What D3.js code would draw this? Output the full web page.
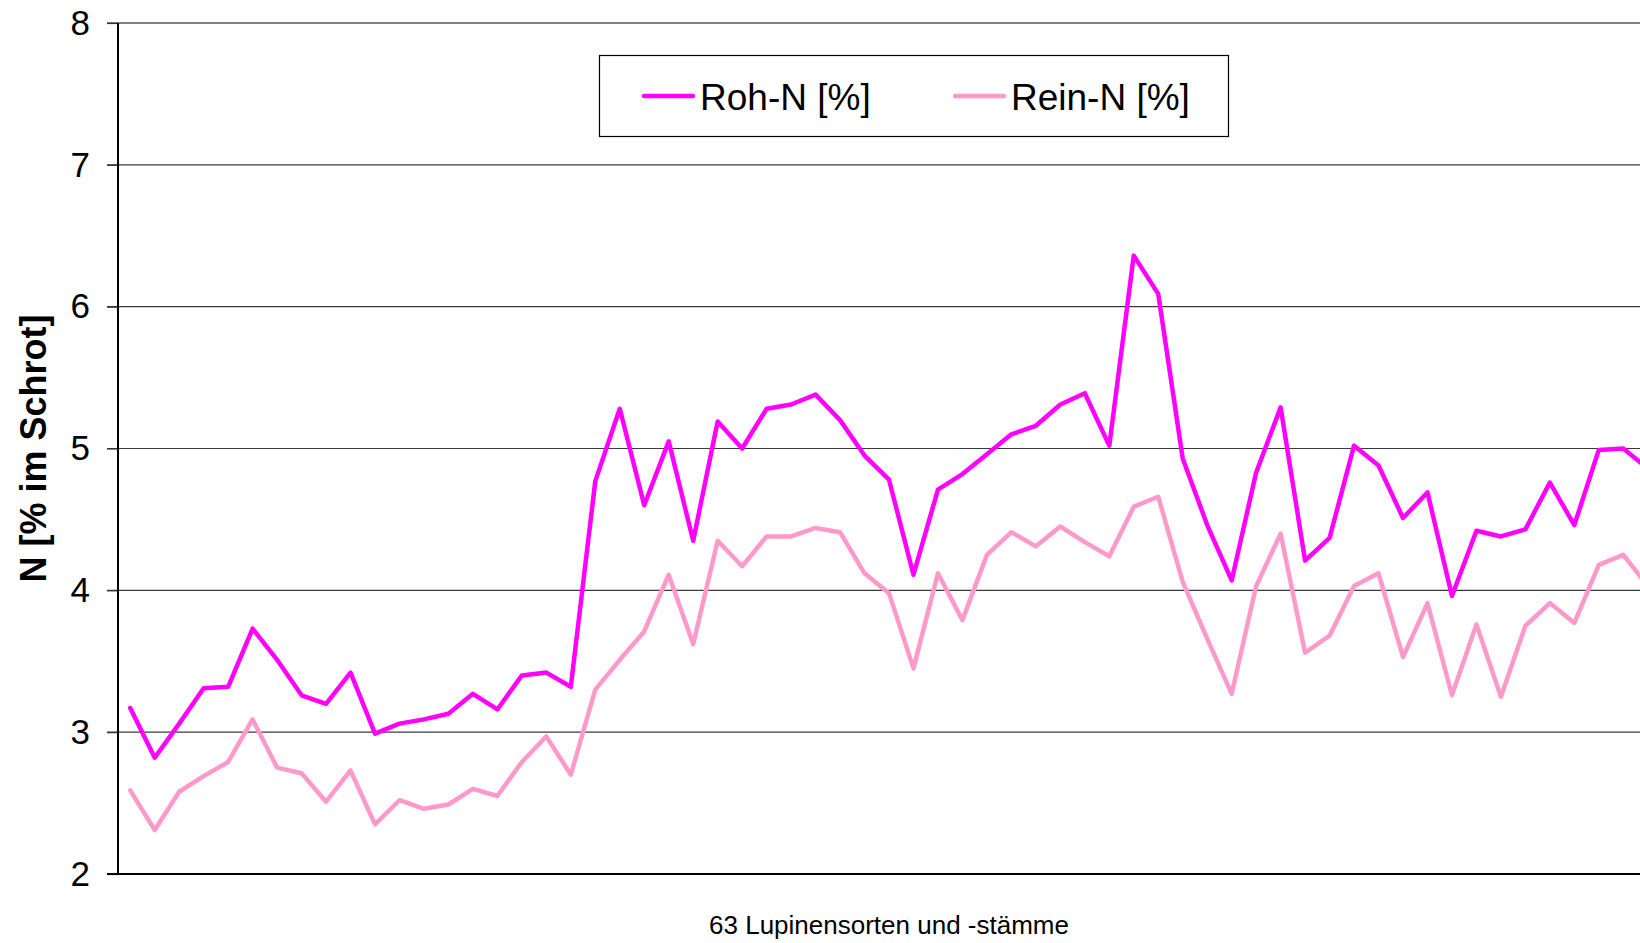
<!DOCTYPE html>
<html>
<head>
<meta charset="utf-8">
<script src="https://cdn.jsdelivr.net/npm/d3@7/dist/d3.min.js"></script>
<style>
  html, body { margin: 0; padding: 0; background: #fff; overflow: hidden; }
  svg { display: block; font-family: "Liberation Sans", Arial, sans-serif; }
</style>
</head>
<body>
<svg id="chart" width="1640" height="943"></svg>
<script>
// ---- data ----
const categories = d3.range(1, 64); // 63 Lupinensorten und -stämme
const rohN = [3.17, 2.82, 3.06, 3.31, 3.32, 3.73, 3.51, 3.26, 3.20, 3.42,
              2.99, 3.06, 3.09, 3.13, 3.27, 3.16, 3.40, 3.42, 3.32, 4.77,
              5.28, 4.60, 5.05, 4.35, 5.19, 5.00, 5.28, 5.31, 5.38, 5.20,
              4.95, 4.78, 4.11, 4.71, 4.82, 4.96, 5.10, 5.16, 5.31, 5.39,
              5.02, 6.36, 6.09, 4.93, 4.46, 4.07, 4.83, 5.29, 4.21, 4.37,
              5.02, 4.88, 4.51, 4.69, 3.96, 4.42, 4.38, 4.43, 4.76, 4.46,
              4.99, 5.00, 4.86];
const reinN = [2.59, 2.31, 2.58, 2.69, 2.79, 3.09, 2.75, 2.71, 2.51, 2.73,
               2.35, 2.52, 2.46, 2.49, 2.60, 2.55, 2.79, 2.97, 2.70, 3.30,
               3.51, 3.71, 4.11, 3.62, 4.35, 4.17, 4.38, 4.38, 4.44, 4.41,
               4.12, 3.98, 3.45, 4.12, 3.79, 4.25, 4.41, 4.31, 4.45, 4.34,
               4.24, 4.59, 4.66, 4.06, 3.66, 3.27, 4.03, 4.40, 3.56, 3.68,
               4.03, 4.12, 3.53, 3.91, 3.26, 3.76, 3.25, 3.75, 3.91, 3.77,
               4.18, 4.25, 4.03];
const yTicks = [2, 3, 4, 5, 6, 7, 8];
const seriesNames = ["Roh-N [%]", "Rein-N [%]"];
const seriesColors = ["#FF00FF", "#FF99CC"];
const yTitle = "N [% im Schrot]";
const xTitle = "63 Lupinensorten und -stämme";

// ---- layout ----
const svg = d3.select("#chart");
const mLeft = 118, mRight = 1660, mTop = 23, mBottom = 874;

const x = d3.scalePoint().domain(categories).range([mLeft, mRight]).padding(0.5);
const y = d3.scaleLinear().domain([2, 8]).range([mBottom, mTop]);

// gridlines
svg.append("g").selectAll("line")
  .data(yTicks.filter(t => t > 2))
  .join("line")
  .attr("x1", mLeft - 11).attr("x2", mRight)
  .attr("y1", d => y(d)).attr("y2", d => y(d))
  .attr("stroke", d => d === 8 ? "#808080" : "#3a3a3a")
  .attr("stroke-width", d => d === 8 ? 2 : 1.2);

// y axis
const yAxis = d3.axisLeft(y).tickValues(yTicks).tickSize(11).tickPadding(17).tickFormat(d3.format("d"));
const gy = svg.append("g").attr("transform", `translate(${mLeft},0)`).call(yAxis);
gy.select(".domain").remove();
gy.selectAll(".tick line").attr("stroke", "#333").attr("stroke-width", 1.2);
gy.selectAll(".tick text").attr("font-size", 35).attr("fill", "#000")
  .attr("font-family", "Liberation Sans, Arial, sans-serif");

// axis lines
svg.append("line").attr("x1", mLeft).attr("x2", mLeft).attr("y1", mTop).attr("y2", mBottom + 1)
  .attr("stroke", "#000").attr("stroke-width", 2);
svg.append("line").attr("x1", mLeft - 11).attr("x2", mRight).attr("y1", mBottom).attr("y2", mBottom)
  .attr("stroke", "#000").attr("stroke-width", 2);

// lines
const line = d3.line().x((d, i) => x(categories[i])).y(d => y(d));
[rohN, reinN].forEach((s, k) => {
  svg.append("path").datum(s)
    .attr("d", line)
    .attr("fill", "none")
    .attr("stroke", seriesColors[k])
    .attr("stroke-width", 4.5)
    .attr("stroke-linejoin", "round")
    .attr("stroke-linecap", "round");
});

// legend
const lg = svg.append("g");
lg.append("rect").attr("x", 599.5).attr("y", 55.5).attr("width", 629).attr("height", 81)
  .attr("fill", "#fff").attr("stroke", "#000").attr("stroke-width", 1.2);
const legendX = [644, 955];
seriesNames.forEach((n, k) => {
  lg.append("line").attr("x1", legendX[k]).attr("x2", legendX[k] + 49)
    .attr("y1", 96).attr("y2", 96)
    .attr("stroke", seriesColors[k]).attr("stroke-width", 4.5).attr("stroke-linecap", "round");
  lg.append("text").attr("x", legendX[k] + 56).attr("y", 110)
    .attr("font-size", 37).attr("fill", "#000").text(n);
});

// titles
svg.append("text")
  .attr("transform", `translate(46,${(mTop + mBottom) / 2}) rotate(-90)`)
  .attr("text-anchor", "middle")
  .attr("font-size", 36).attr("font-weight", "bold").attr("fill", "#000")
  .text(yTitle);
svg.append("text")
  .attr("x", (mLeft + mRight) / 2).attr("y", 934)
  .attr("text-anchor", "middle")
  .attr("font-size", 26).attr("fill", "#000")
  .text(xTitle);
</script>
</body>
</html>
